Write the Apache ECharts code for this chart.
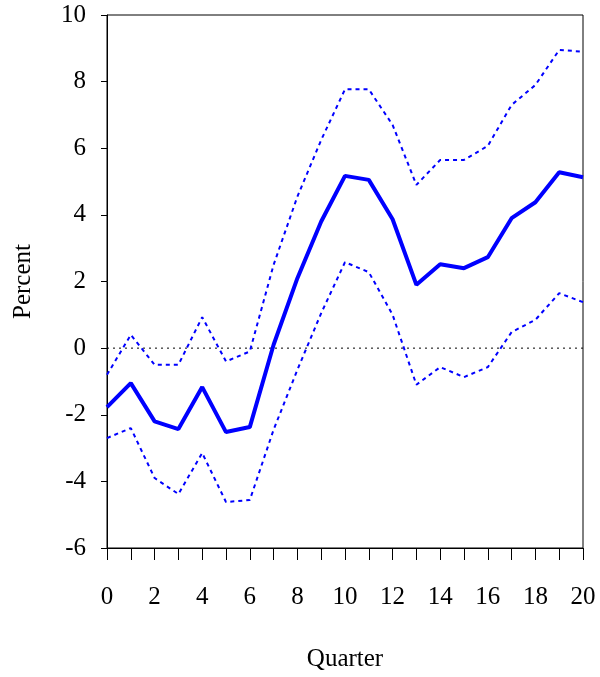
<!DOCTYPE html>
<html>
<head>
<meta charset="utf-8">
<script src="https://cdn.jsdelivr.net/npm/echarts@6/dist/echarts.min.js"></script>
<style>html,body{margin:0;padding:0;background:#fff}#chart{width:600px;height:677px}</style>
</head>
<body>
<div id="chart"></div>
<script>
// quarters and responses
const quarters = Array.from({ length: 21 }, (v, i) => String(i));
const central = [-1.77, -1.05, -2.2, -2.43, -1.17, -2.52, -2.37, 0.1, 2.1, 3.8, 5.17, 5.05, 3.87, 1.9, 2.52, 2.4, 2.73, 3.9, 4.38, 5.28, 5.13];
const upper = [-0.8, 0.4, -0.5, -0.5, 0.93, -0.4, -0.1, 2.5, 4.55, 6.25, 7.77, 7.77, 6.7, 4.9, 5.65, 5.65, 6.07, 7.3, 7.9, 8.95, 8.9];
const lower = [-2.7, -2.4, -3.9, -4.38, -3.15, -4.62, -4.56, -2.45, -0.65, 1.05, 2.58, 2.28, 1.0, -1.1, -0.57, -0.87, -0.57, 0.48, 0.85, 1.65, 1.38];
const zeroLine = quarters.map(() => 0);

const font = 'Liberation Serif';
const chart = echarts.init(document.getElementById('chart'));

chart.setOption({
  animation: false,
  grid: {
    left: 107, right: 17, top: 15, bottom: 129,
    outerBoundsMode: 'none', containLabel: false,
    show: true, borderColor: '#000', borderWidth: 1
  },
  xAxis: {
    type: 'category',
    data: quarters,
    boundaryGap: false,
    name: 'Quarter',
    nameLocation: 'middle',
    nameGap: 99,
    nameTextStyle: { fontFamily: font, fontSize: 25, color: '#000' },
    axisLine: { onZero: false, lineStyle: { color: '#000' } },
    axisTick: { length: 12, interval: 0, lineStyle: { color: '#000' } },
    axisLabel: { interval: 1, fontFamily: font, fontSize: 25, color: '#000', margin: 37 },
    splitLine: { show: false }
  },
  yAxis: {
    type: 'value',
    min: -6,
    max: 10,
    interval: 2,
    name: 'Percent',
    nameLocation: 'middle',
    nameGap: 71,
    nameTextStyle: { fontFamily: font, fontSize: 25, color: '#000' },
    axisLine: { show: true, lineStyle: { color: '#000' } },
    axisTick: { show: true, length: 6, lineStyle: { color: '#000' } },
    axisLabel: { fontFamily: font, fontSize: 25, color: '#000', margin: 21 },
    splitLine: { show: false }
  },
  series: [
    {
      type: 'line', data: zeroLine, symbol: 'none', silent: true,
      lineStyle: { color: '#000', width: 1, type: [2, 4] }
    },
    {
      type: 'line', data: upper, symbol: 'none',
      lineStyle: { color: '#0000ff', width: 2, type: [4, 4] }
    },
    {
      type: 'line', data: lower, symbol: 'none',
      lineStyle: { color: '#0000ff', width: 2, type: [4, 4] }
    },
    {
      type: 'line', data: central, symbol: 'none',
      lineStyle: { color: '#0000ff', width: 4 }
    }
  ]
});
</script>
</body>
</html>
